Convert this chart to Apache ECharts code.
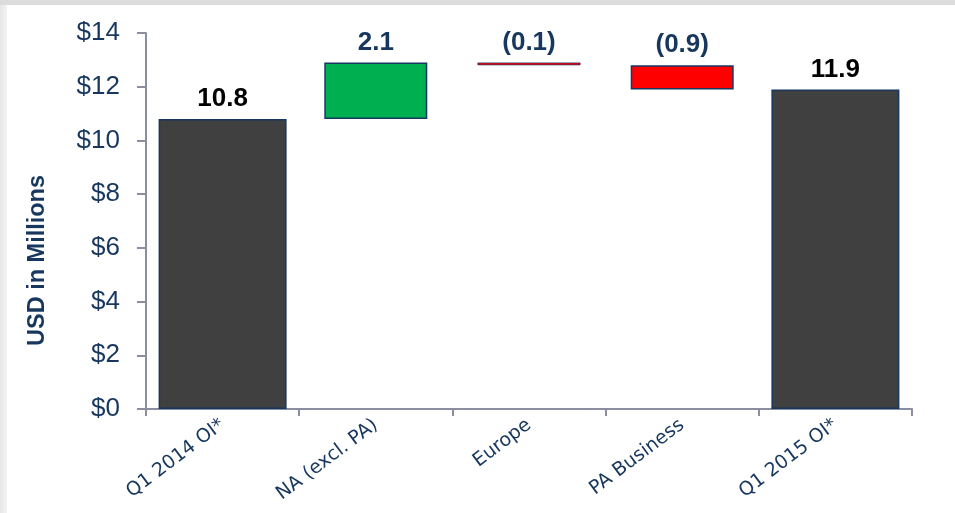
<!DOCTYPE html>
<html>
<head>
<meta charset="utf-8">
<script src="https://cdn.jsdelivr.net/npm/echarts@6/dist/echarts.min.js"></script>
<style>
html,body{margin:0;padding:0;background:#fff;}
#c{width:955px;height:513px;}
</style>
</head>
<body>
<div id="c"></div>
<script>
// ---- data ----
const categories = ['Q1 2014 OI*', 'NA (excl. PA)', 'Europe', 'PA Business', 'Q1 2015 OI*'];
const kinds = ['total', 'delta', 'delta', 'delta', 'total'];
const values = [10.8, 2.1, -0.1, -0.9, 11.9];
const valueLabels = ['10.8', '2.1', '(0.1)', '(0.9)', '11.9'];
const yTicks = [0, 2, 4, 6, 8, 10, 12, 14];

// ---- derived for the waterfall ----
const NAVY = '#17375E';
const totalData = [], baseData = [], deltaData = [];
let running = 0;
values.forEach((v, i) => {
  if (kinds[i] === 'total') {
    running = v;
    totalData.push({ value: v, label: { formatter: valueLabels[i] } });
    baseData.push('-');
    deltaData.push('-');
  } else {
    const lo = v >= 0 ? running : running + v;
    baseData.push(lo);
    deltaData.push({
      value: Math.abs(v),
      itemStyle: { color: v >= 0 ? '#00B050' : '#FF0000', borderWidth: Math.abs(v) < 0.2 ? 0.7 : 1.5 },
      label: { formatter: valueLabels[i] }
    });
    totalData.push('-');
    running += v;
  }
});

const chart = echarts.init(document.getElementById('c'));
const axisColor = '#8B8EA1';
chart.setOption({
  animation: false,
  backgroundColor: '#ffffff',
  grid: { left: 146, right: 43, top: 33, bottom: 104 },
  graphic: [
    { type: 'rect', shape: { x: 0, y: 0, width: 955, height: 5 }, style: { fill: '#dcdcdc' }, silent: true },
    { type: 'rect', shape: { x: 0, y: 5, width: 7, height: 508 },
      style: { fill: new echarts.graphic.LinearGradient(0, 0, 1, 0, [{ offset: 0, color: '#e6e6e6' }, { offset: 1, color: '#f4f4f4' }]) }, silent: true },
    { type: 'text',
      style: { text: 'USD in Millions', font: 'bold 23.5px "Liberation Sans", Arial, sans-serif', fill: NAVY },
      rotation: Math.PI / 2, x: 26, y: 346, silent: true }
  ],
  xAxis: [
    {
      type: 'category', data: categories,
      axisLine: { lineStyle: { color: axisColor, width: 2 } },
      axisTick: { show: true, length: 7, lineStyle: { color: axisColor, width: 2 } },
      axisLabel: { rotate: 37, margin: 14, color: NAVY, fontFamily: 'DejaVu Sans', fontSize: 19 }
    },
    {
      type: 'category', data: categories, show: false, position: 'bottom'
    }
  ],
  yAxis: {
    type: 'value', min: 0, max: 14, interval: 2,
    splitLine: { show: false },
    axisLine: { show: true, lineStyle: { color: axisColor, width: 2 } },
    axisTick: { show: true, length: 9, lineStyle: { color: axisColor, width: 2 } },
    axisLabel: {
      margin: 26, color: NAVY, fontFamily: 'Liberation Sans', fontSize: 26,
      formatter: v => yTicks.indexOf(v) >= 0 ? '$' + v : ''
    }
  },
  series: [
    {
      name: 'total', type: 'bar', xAxisIndex: 0, barWidth: 128, data: totalData,
      itemStyle: { color: '#404040', borderColor: NAVY, borderWidth: 1.5 },
      label: { show: true, position: 'top', distance: 7, color: '#000', fontWeight: 'bold', fontSize: 26, fontFamily: 'Liberation Sans' },
      z: 3
    },
    {
      name: 'base', type: 'bar', xAxisIndex: 1, stack: 'wf', barWidth: 103, data: baseData,
      itemStyle: { color: 'transparent', borderColor: 'transparent' }, silent: true,
      z: 2
    },
    {
      name: 'delta', type: 'bar', xAxisIndex: 1, stack: 'wf', barWidth: 103, data: deltaData,
      itemStyle: { borderColor: NAVY, borderWidth: 1.5 },
      label: { show: true, position: 'top', distance: 7, color: NAVY, fontWeight: 'bold', fontSize: 26, fontFamily: 'Liberation Sans' },
      z: 3
    }
  ]
});
</script>
</body>
</html>
